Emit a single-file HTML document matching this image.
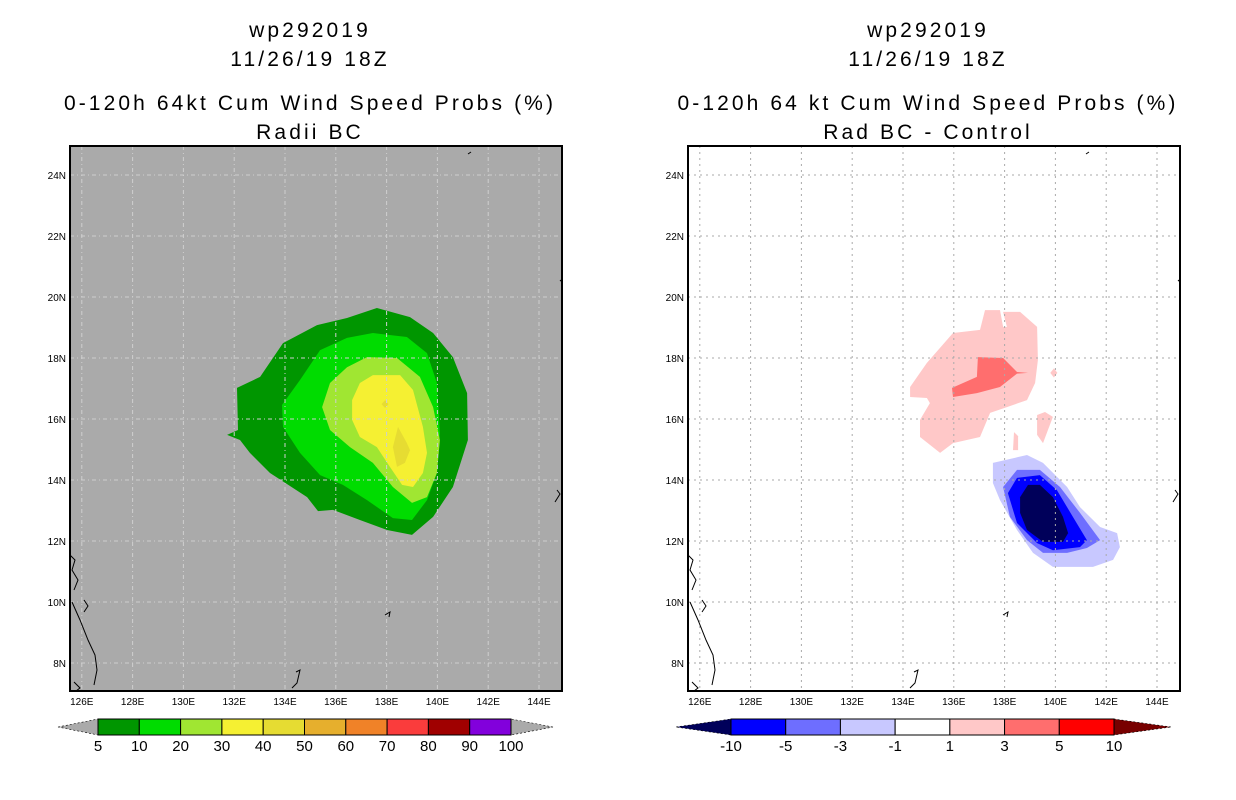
<!DOCTYPE html>
<html><head><meta charset="utf-8"><style>
body{margin:0;background:#fff;}
svg{display:block;font-family:"Liberation Sans",sans-serif;}
.t{font-size:21px;letter-spacing:3.1px;text-anchor:middle}
.tk{font-size:10px}
.cb{font-size:15px;text-anchor:middle}
</style></head><body>
<svg id="s" width="1236" height="800" xmlns="http://www.w3.org/2000/svg">
<g>
<text class="t" x="310" y="37">wp292019</text><text class="t" x="310" y="66">11/26/19 18Z</text>
<text class="t" x="310" y="110">0-120h 64kt Cum Wind Speed Probs (%)</text><text class="t" x="310" y="139">Radii BC</text></g>
<g>
<text class="t" x="928" y="37">wp292019</text><text class="t" x="928" y="66">11/26/19 18Z</text>
<text class="t" x="928" y="110">0-120h 64 kt Cum Wind Speed Probs (%)</text><text class="t" x="928" y="139">Rad BC - Control</text></g>
</svg>
<script>
// ---- data ----
const lonTicks=[126,128,130,132,134,136,138,140,142,144];
const latTicks=[8,10,12,14,16,18,20,22,24];
const leftLevels=["5","10","20","30","40","50","60","70","80","90","100"];
const leftColors=["#009600","#00dc00","#a0e632","#f5f032","#e6dc32","#e6af2d","#f08228","#fa3c3c","#a00000","#8200dc"];
const rightLevels=["-10","-5","-3","-1","1","3","5","10"];
const rightColors=["#0000ff","#6e6eff","#c8c8ff","#ffffff","#ffc8c8","#ff6e6e","#ff0000"];
const prob5=[[137.62,19.64],[138.92,19.34],[139.83,18.82],[140.61,18.03],[141.17,16.85],[141.2,15.31],[140.61,13.77],[139.83,12.79],[139.0,12.2],[138.02,12.36],[136.95,12.69],[135.89,13.02],[135.3,12.98],[134.87,13.44],[133.41,14.23],[132.62,14.89],[132.23,15.31],[131.72,15.48],[132.15,15.64],[132.11,17.02],[133.02,17.38],[133.92,18.49],[135.26,19.08],[136.44,19.31]];
const prob10=[[137.46,18.82],[138.8,18.69],[139.59,18.16],[139.98,17.18],[140.1,15.54],[139.98,14.23],[139.59,13.34],[139.0,12.69],[138.25,12.75],[137.23,13.34],[136.28,13.84],[135.38,14.16],[134.59,14.89],[133.92,15.74],[133.88,16.46],[134.59,17.28],[135.38,18.26],[136.44,18.66]];
const prob20=[[137.23,18.03],[138.41,18.0],[139.31,17.38],[139.83,16.39],[140.1,15.31],[139.98,14.23],[139.59,13.44],[139.0,13.25],[138.25,13.77],[137.46,14.56],[136.56,15.08],[135.77,15.64],[135.46,16.39],[135.77,17.18],[136.44,17.7]];
const prob30=[[137.46,17.44],[138.53,17.44],[139.04,16.95],[139.43,15.74],[139.59,14.89],[139.43,14.23],[139.04,13.77],[138.61,13.84],[138.13,14.43],[137.62,15.08],[136.95,15.41],[136.64,15.97],[136.64,16.62],[136.95,17.18]];
const prob40a=[[138.45,15.74],[138.8,15.21],[138.92,14.98],[138.72,14.56],[138.41,14.43],[138.25,15.08]];
const prob40b=[[137.94,16.62],[138.08,16.49],[137.94,16.36],[137.8,16.49]];
const diffP1=[[137.23,19.57],[137.82,19.57],[137.94,19.02],[138.09,19.02],[137.94,19.51],[138.61,19.51],[139.28,19.02],[139.31,17.93],[139.2,17.18],[138.88,16.62],[138.09,16.39],[137.43,16.2],[137.03,15.41],[135.97,15.21],[135.46,14.89],[134.67,15.41],[134.67,15.97],[135.06,16.52],[134.94,16.69],[134.28,16.72],[134.28,17.05],[134.94,17.84],[135.97,18.82],[137.03,18.92]];
const diffP1b=[[139.94,17.66],[140.08,17.51],[139.94,17.36],[139.8,17.51]];
const diffP1c=[[139.28,16.13],[139.59,16.23],[139.9,16.07],[139.51,15.21],[139.28,15.48]];
const diffP1d=[[138.37,15.57],[138.53,15.44],[138.53,14.98],[138.33,14.98]];
const diffP3=[[136.95,18.03],[137.94,18.0],[138.49,17.54],[138.92,17.51],[138.49,17.49],[137.82,17.05],[136.91,16.85],[135.97,16.72],[135.93,17.02],[136.91,17.38]];
const diffM1=[[137.54,14.56],[138.88,14.82],[139.51,14.56],[140.46,13.77],[140.97,13.11],[141.76,12.46],[142.43,12.26],[142.54,11.8],[142.27,11.38],[141.48,11.15],[139.9,11.15],[139.12,11.61],[138.49,12.36],[137.82,13.34],[137.54,13.9]];
const diffM3=[[137.94,13.77],[138.49,14.33],[139.39,14.33],[140.18,13.77],[140.97,12.92],[141.76,12.03],[141.24,11.77],[140.46,11.61],[139.51,11.61],[138.88,12.03],[138.21,12.79]];
const diffM5=[[138.13,13.57],[138.49,14.07],[139.39,14.16],[140.06,13.67],[140.69,12.79],[141.24,12.03],[140.97,11.8],[139.9,11.7],[139.28,11.93],[138.49,12.59]];
const diffM10=[[138.61,13.44],[138.92,13.84],[139.39,13.84],[139.9,13.44],[140.3,12.79],[140.5,12.26],[140.3,11.97],[139.51,11.97],[138.88,12.36],[138.61,12.92]];
// ---- drawing ----
const NS="http://www.w3.org/2000/svg", svg=document.getElementById('s');
function mk(tag,a,p){const e=document.createElementNS(NS,tag);for(const k in a)e.setAttribute(k,a[k]);(p||svg).appendChild(e);return e;}
function panel(ox,bg,grid,name){
  const X=lon=>ox+285+(lon-134)*25.4, Y=lat=>358-(lat-18)*30.5;
  const g=mk('g',{});
  
  
  mk('rect',{x:ox+70,y:146,width:492,height:545,fill:bg},g);
  const cp=mk('clipPath',{id:'c'+ox},g);mk('rect',{x:ox+70,y:146,width:492,height:545},cp);
  const body=mk('g',{'clip-path':'url(#c'+ox+')'},g);
  return {X,Y,g,body,ox,grid};
}
function poly(P,pts,fill,name){
  const e=mk('polygon',{points:pts.map(p=>P.X(p[0]).toFixed(1)+','+P.Y(p[1]).toFixed(1)).join(' '),fill:fill},P.body);
  
  
}
function finish(P){
  const ox=P.ox;
  lonTicks.forEach(l=>{const x=P.X(l);
    mk('line',{x1:x,y1:146,x2:x,y2:691,stroke:P.grid,'stroke-width':1,'stroke-dasharray':P.ox?'2,4':'4,3,1,3'},P.body);
    const t=mk('text',{x:x,y:705,class:'tk','text-anchor':'middle'},P.g);t.textContent=l+'E';
    
    });
  latTicks.forEach(l=>{const y=P.Y(l);
    mk('line',{x1:ox+70,y1:y,x2:ox+562,y2:y,stroke:P.grid,'stroke-width':1,'stroke-dasharray':P.ox?'2,4':'4,3,1,3'},P.body);
    const t=mk('text',{x:ox+66,y:y+4,class:'tk','text-anchor':'end'},P.g);t.textContent=l+'N';
    
    });
  const cs=['M70,555 L75,560 L72,570 L78,580 L74,590','M84,600 L88,606 L84,612','M72,602 L80,620 L88,640 L95,655 L97,670 L94,685','M74,682 L80,688 L76,691','M385,615 L390,612 L389,617','M296,672 L300,670 L297,683 L292,688','M557,490 L560,494 L555,502','M468,154 L471,152','M560,280 L562,282'];
  cs.forEach(d=>{mk('path',{d:d.replace(/(\d+),/g,(m,a)=>(+a+ox)+','),fill:'none',stroke:'#000','stroke-width':1},P.body);});
  mk('rect',{x:ox+70,y:146,width:492,height:545,fill:'none',stroke:'#000','stroke-width':2},P.g);
}
const L=panel(0,'#aaaaaa','#cfcfcf','left-map-panel');
poly(L,prob5,leftColors[0],'contour-5pct');poly(L,prob10,leftColors[1],'contour-10pct');
poly(L,prob20,leftColors[2],'contour-20pct');poly(L,prob30,leftColors[3],'contour-30pct');
poly(L,prob40a,leftColors[4],'contour-40pct');poly(L,prob40b,leftColors[4],'contour-40pct-small');
finish(L);
const R=panel(618,'#ffffff','#aaaaaa','right-map-panel');
poly(R,diffP1,rightColors[4],'diff-plus1');poly(R,diffP1b,rightColors[4],'diff-plus1-b');
poly(R,diffP1c,rightColors[4],'diff-plus1-c');poly(R,diffP1d,rightColors[4],'diff-plus1-d');
poly(R,diffP3,rightColors[5],'diff-plus3');
poly(R,diffM1,rightColors[2],'diff-minus1');poly(R,diffM3,rightColors[1],'diff-minus3');
poly(R,diffM5,rightColors[0],'diff-minus5');poly(R,diffM10,'#00005a','diff-minus10');
finish(R);
function cbar(x0,x1,tipL,tipR,cols,labs,cl,cr,name){
  const g=mk('g',{});
  
  
  const y0=719,y1=735,w=(x1-x0)/cols.length;
  mk('polygon',{points:`${tipL},727 ${x0},${y0} ${x0},${y1}`,fill:cl,stroke:'#000','stroke-width':0.6,'stroke-dasharray':'2,2'},g);
  mk('polygon',{points:`${tipR},727 ${x1},${y0} ${x1},${y1}`,fill:cr,stroke:'#000','stroke-width':0.6,'stroke-dasharray':'2,2'},g);
  cols.forEach((c,i)=>{const r=mk('rect',{x:x0+i*w,y:y0,width:w,height:y1-y0,fill:c,stroke:'#000','stroke-width':1},g);
    
    });
  labs.forEach((s,i)=>{const t=mk('text',{x:x0+(i)*w,y:751,class:'cb'},g);t.textContent=s;
    
    });
}
cbar(98,511,58,553,leftColors,leftLevels,'#aaaaaa','#aaaaaa','left-colorbar');
cbar(731,1114,676,1171,rightColors,rightLevels,'#00005a','#780000','right-colorbar');
</script>
</body></html>
